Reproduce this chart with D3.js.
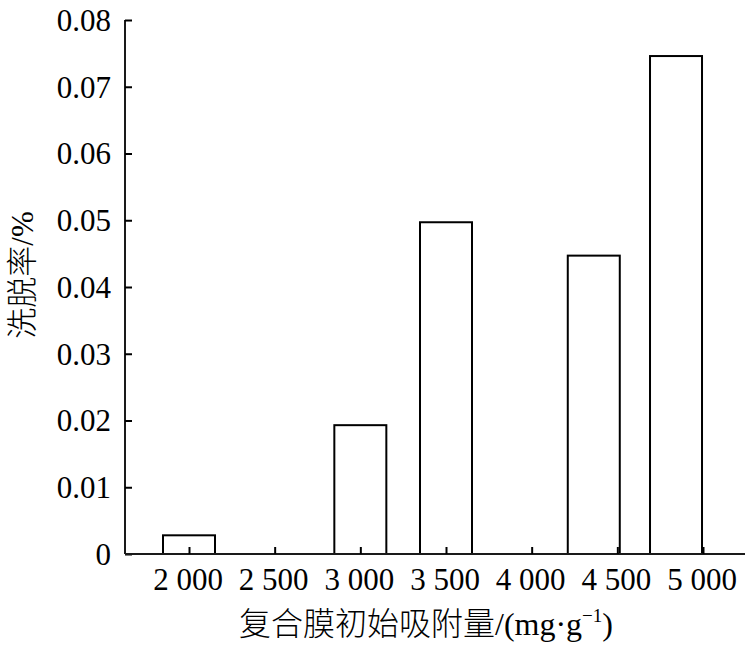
<!DOCTYPE html>
<html><head><meta charset="utf-8">
<script src="https://cdn.jsdelivr.net/npm/d3@7"></script>
<style>body{margin:0;background:#fff}</style>
</head><body>
<script>
const categories = ["2 000","2 500","3 000","3 500","4 000","4 500","5 000"];
const rates = [0.0028, 0, 0.0193, 0.0497, 0, 0.0447, 0.0746];
const yTicks = [0, 0.01, 0.02, 0.03, 0.04, 0.05, 0.06, 0.07, 0.08];
const yTickLabels = ["0","0.01","0.02","0.03","0.04","0.05","0.06","0.07","0.08"];
const xTitle = "复合膜初始吸附量/(mg·g";
const yTitle = "洗脱率/%";

// layout (bar offsets relative to tick, fraction of step, as in original drawing)
const barShift = [0,0,0,0,0,-0.275,-0.315];
const W = 756, H = 650;
const axisX = 125, axisY = 554, topY = 20, rightX = 745;
const font = "'Liberation Serif','Times New Roman',serif";
const cjk = "'Liberation Serif','Noto Sans CJK SC',serif";

const svg = d3.select("body").append("svg").attr("width", W).attr("height", H);

const x = d3.scalePoint().domain(categories).range([189, 703]);
const step = x.step();
const y = d3.scaleLinear().domain([0, 0.08]).range([axisY, topY]);
const barW = 52;

// bars
svg.append("g").selectAll("rect").data(rates.map((v,i)=>({v,i})).filter(d=>d.v>0))
  .join("rect")
  .attr("x", d => x(categories[d.i]) + barShift[d.i]*step - barW/2)
  .attr("y", d => y(d.v))
  .attr("width", barW)
  .attr("height", d => axisY - y(d.v))
  .attr("fill", "#fff").attr("stroke", "#000").attr("stroke-width", 2);

// y axis
const ya = svg.append("g").attr("transform", `translate(${axisX},0)`)
  .call(d3.axisRight(y).tickValues(yTicks).tickSize(7).tickFormat(""));
ya.select(".domain").attr("d", `M0,${topY}V${axisY}`).attr("stroke","#1a1a1a").attr("stroke-width",2);
ya.selectAll(".tick line").attr("stroke","#000").attr("stroke-width",2);
svg.append("g").selectAll("text").data(yTicks).join("text")
  .attr("x", axisX - 14).attr("y", d => y(d)).attr("dy", "0.35em")
  .attr("text-anchor", "end").attr("font-family", font).attr("font-size", 31)
  .attr("fill", "#000").text((d,i) => yTickLabels[i]);

// x axis
const xa = svg.append("g").attr("transform", `translate(0,${axisY})`)
  .call(d3.axisTop(x).tickSize(7).tickFormat(""));
xa.select(".domain").attr("d", `M${axisX},0H${rightX}`).attr("stroke","#1a1a1a").attr("stroke-width",2);
xa.selectAll(".tick line").attr("stroke","#000").attr("stroke-width",2);
svg.append("g").selectAll("text").data(categories).join("text")
  .attr("x", d => x(d) - 1).attr("y", 590)
  .attr("text-anchor", "middle").attr("font-family", font).attr("font-size", 31)
  .attr("fill", "#000").text(d => d);

// x title
const xt = svg.append("text").attr("x", 426).attr("y", 635).attr("text-anchor","middle")
  .attr("font-family", cjk).attr("font-size", 32).attr("font-weight", 300).attr("fill","#000");
xt.append("tspan").text(xTitle);
xt.append("tspan").attr("font-size", 19).attr("dy", -13).text("−1");
xt.append("tspan").attr("dy", 13).text(")");

// y title
svg.append("text").attr("transform", `translate(33,275) rotate(-90)`)
  .attr("text-anchor","middle").attr("font-family", cjk).attr("font-size", 31).attr("font-weight", 300)
  .attr("fill","#000").text(yTitle);
</script>
</body></html>
